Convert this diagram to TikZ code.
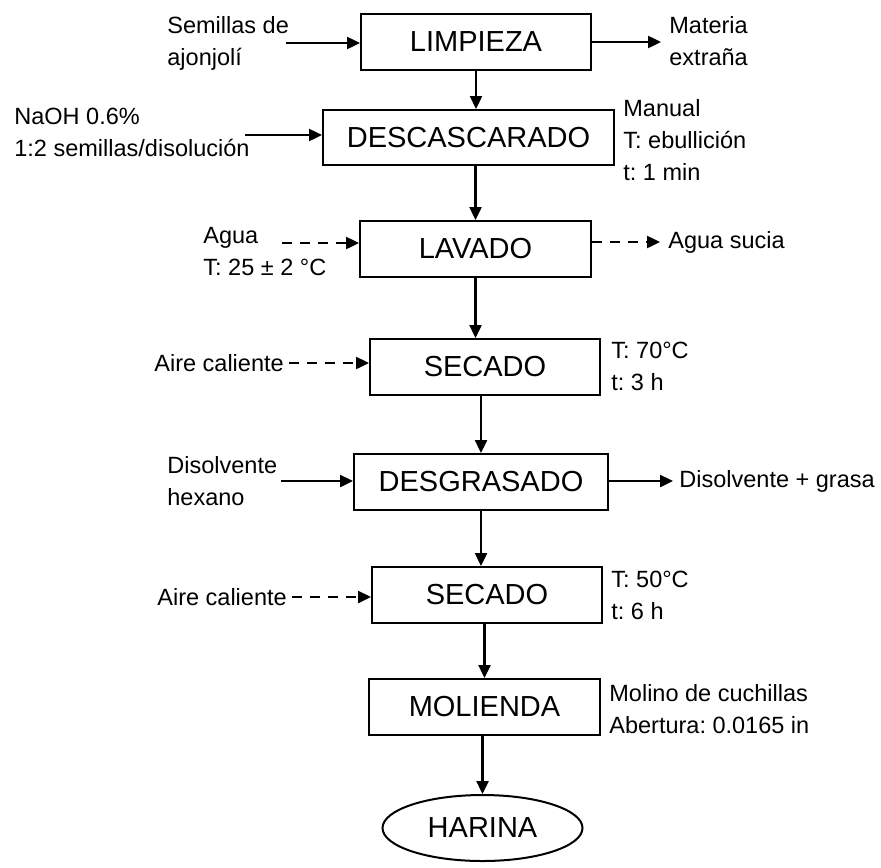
\documentclass[tikz,border=0pt]{standalone}
\usepackage{fontspec}
\setmainfont{Liberation Sans}
\frenchspacing
\usetikzlibrary{arrows.meta,shapes.geometric}
\tikzset{
  stage/.style={draw,line width=1pt,minimum height=28pt,inner sep=0pt,font=\fontsize{14.5pt}{17pt}\selectfont},
  note/.style={anchor=west,align=left,inner sep=0pt,font=\fontsize{11.75pt}{16pt}\selectfont},
  flow/.style={line width=1.2pt,-{Triangle[length=6.5pt,width=6pt]}},
  wash/.style={flow,dash pattern=on 5pt off 4pt}
}

\begin{document}
\begin{tikzpicture}[x=0.5pt,y=-0.5pt]
   \useasboundingbox (0,0) rectangle (881,867);
   % process boxes
   \node[stage,minimum width=115pt] (lim) at (476,42) {LIMPIEZA};
   \node[stage,minimum width=145.5pt,minimum height=27.5pt] (desc) at (468.5,137.5) {DESCASCARADO};
   \node[stage,minimum width=115.5pt] (lav) at (475.5,249) {LAVADO};
   \node[stage,minimum width=115pt] (seca) at (485,367) {SECADO};
   \node[stage,minimum width=127pt] (desg) at (481,482) {DESGRASADO};
   \node[stage,minimum width=115pt] (secb) at (487,595) {SECADO};
   \node[stage,minimum width=115.5pt] (mol) at (484.5,707) {MOLIENDA};
   \node[stage,ellipse,minimum width=100pt,minimum height=33pt] (har) at (482.5,828) {HARINA}; % product
   % side texts
   \node[note] (semt) at (167,43) {Semillas de\\ajonjolí};
   \node[note] (matt) at (669,41) {Materia\\extraña};
   \node[note] (naoh) at (14,132) {NaOH 0.6\%\\1:2 semillas/disolución};
   \node[note] (manu) at (623,140) {Manual\\T: ebullición\\t: 1 min};
   \node[note] (agua) at (203,252) {Agua\\T: 25 ± 2 °C};
   \node[note] (sucia) at (668,242) {Agua sucia};
   \node[note] (airea) at (154,363) {Aire caliente};
   \node[note] (conda) at (611,366) {T: 70°C\\t: 3 h};
   \node[note] (disv) at (167,481) {Disolvente\\hexano};
   \node[note] (grasa) at (679,481) {Disolvente + grasa};
   \node[note] (aireb) at (157,597) {Aire caliente};
   \node[note] (condb) at (611,595) {T: 50°C\\t: 6 h};
   \node[note] (moli) at (609,709) {Molino de cuchillas\\Abertura: 0.0165 in};
   % free arrow ends
   \coordinate (semin) at (286,43);
   \coordinate (matout) at (661,42);
   \coordinate (naohin) at (245,135);
   \coordinate (aguain) at (282,243);
   \coordinate (aguaout) at (660,242);
   \coordinate (disin) at (281,481);
   \coordinate (disout) at (673,481);
   % main line
   \draw[flow] (lim.south) -- (lim.south |- desc.north);
   \draw[flow] (lav.north |- desc.south) -- (lav.north);
   \draw[flow] (lav.south) -- (lav.south |- seca.north);
   \draw[flow] (desg.north |- seca.south) -- (desg.north);
   \draw[flow] (desg.south) -- (desg.south |- secb.north);
   \draw[flow] (mol.north |- secb.south) -- (mol.north);
   \draw[flow] (har.north |- mol.south) -- (har.north);
   % inputs and outputs
   \draw[flow] (semin) -- (lim.west |- semin);
   \draw[flow] (lim.east |- matout) -- (matout);
   \draw[flow] (naohin) -- (desc.west |- naohin);
   \draw[wash] (aguain) -- (lav.west |- aguain);
   \draw[wash] (lav.east |- aguaout) -- (aguaout);
   \draw[wash,shorten <=2.5pt] (airea) -- (seca.west |- airea);
   \draw[flow] (disin) -- (desg.west |- disin);
   \draw[flow] (desg.east |- disout) -- (disout);
   \draw[wash,shorten <=2.5pt] (aireb) -- (secb.west |- aireb);
\end{tikzpicture}
\end{document}
